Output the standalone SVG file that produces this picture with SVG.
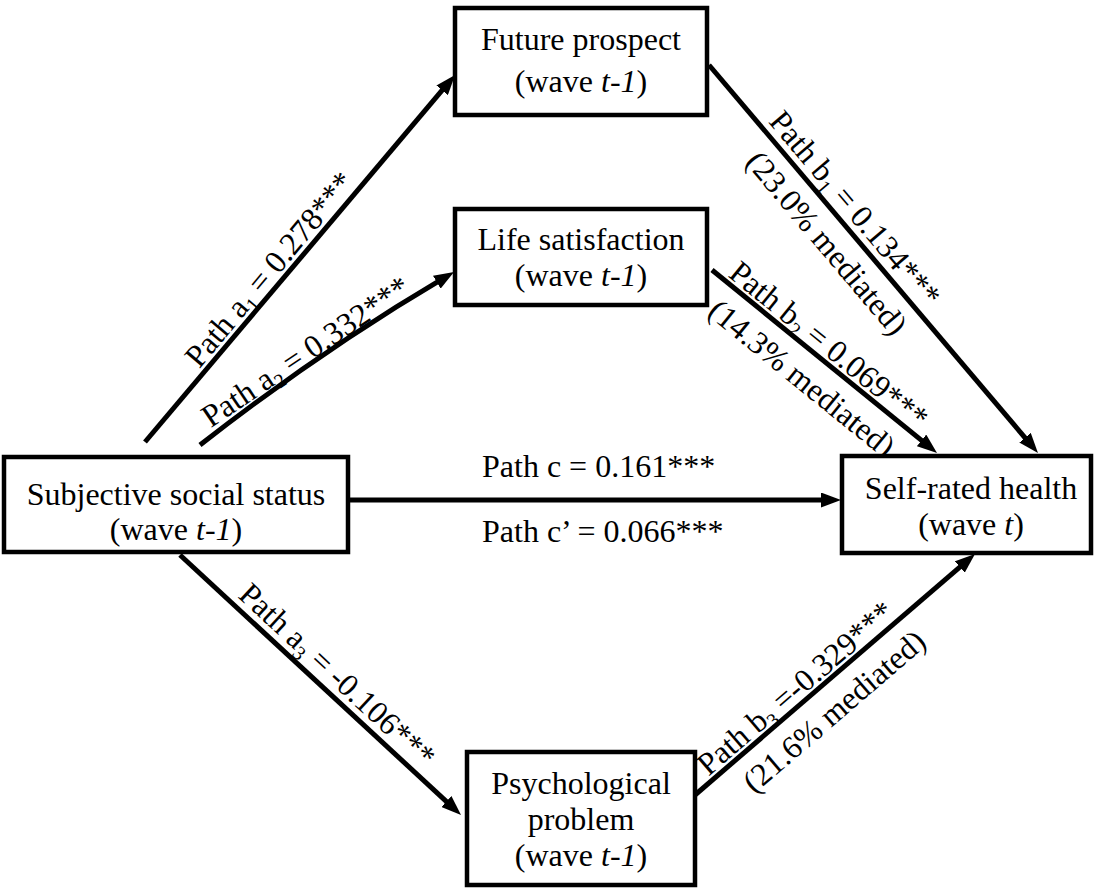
<svg xmlns="http://www.w3.org/2000/svg" width="1094" height="888" viewBox="0 0 1094 888">
<style>
text { font-family: "Liberation Serif", "Times New Roman", serif; font-size: 32px; fill: #000; }
.box { fill: #fff; stroke: #000; stroke-width: 4.5; }
.arr { fill: none; stroke: #000; stroke-width: 5; marker-end: url(#ah); }
.mid { text-anchor: middle; }
.sub { font-size: 20px; }
.it { font-style: italic; }
</style>
<defs>
<marker id="ah" markerUnits="userSpaceOnUse" markerWidth="20" markerHeight="15" refX="8" refY="7.5" orient="auto">
<path d="M0,0 L20,7.5 L0,15 z" fill="#000"/>
</marker>
</defs>
<rect width="1094" height="888" fill="#fff"/>

<g id="connectors">
<path class="arr" d="M145,442 L447.3,84.2"/>
<path class="arr" d="M200,445 Q321.4,350.2 443.7,278.1"/>
<path class="arr" d="M709,65 L1030.2,443.8"/>
<path class="arr" d="M712,270 L927.7,445.4"/>
<path class="arr" d="M350,500 L829,500"/>
<path class="arr" d="M180,555 L452.2,806.9"/>
<path class="arr" d="M695,795 L965.9,561.8"/>
</g>

<g id="edge-labels">
<text class="mid" transform="translate(282,280) rotate(-50)" y="-6">Path a<tspan class="sub" dy="6">1</tspan><tspan dy="-6"> = 0.278***</tspan></text>
<text class="mid" transform="translate(316,367) rotate(-34)" y="-8">Path a<tspan class="sub" dy="6">2</tspan><tspan dy="-6"> = 0.332***</tspan></text>
<text class="mid" transform="translate(846.1,226.7) rotate(49.7)" y="-8" x="-8">Path b<tspan class="sub" dy="6">1</tspan><tspan dy="-6"> = 0.134***</tspan></text>
<text class="mid" transform="translate(846.1,226.7) rotate(49.7)" y="36">(23.0% mediated)</text>
<text class="mid" transform="translate(819.1,357.1) rotate(39.1)" y="-5">Path b<tspan class="sub" dy="6">2</tspan><tspan dy="-6"> = 0.069***</tspan></text>
<text class="mid" transform="translate(819.1,357.1) rotate(39.1)" y="38">(14.3% mediated)</text>
<text x="482" y="477">Path c = 0.161***</text>
<text x="482" y="542">Path c’ = 0.066***</text>
<text class="mid" transform="translate(324.6,688.8) rotate(42.8)" y="-8">Path a<tspan class="sub" dy="6">3</tspan><tspan dy="-6"> = -0.106***</tspan></text>
<text class="mid" transform="translate(810.2,695.8) rotate(-40.7)" y="-5" x="-6">Path b<tspan class="sub" dy="6">3</tspan><tspan dy="-6"> =-0.329***</tspan></text>
<text class="mid" transform="translate(810.2,695.8) rotate(-40.7)" y="38" x="8">(21.6% mediated)</text>
</g>

<g id="node-sss">
<rect class="box" x="4" y="457" width="344" height="95"/>
<text class="mid" x="176" y="505">Subjective social status</text>
<text class="mid" x="176" y="540">(wave <tspan class="it">t-1</tspan>)</text>
</g>

<g id="node-future">
<rect class="box" x="455" y="8" width="252" height="107"/>
<text class="mid" x="581" y="50">Future prospect</text>
<text class="mid" x="581" y="92">(wave <tspan class="it">t-1</tspan>)</text>
</g>

<g id="node-life">
<rect class="box" x="455" y="209" width="252" height="96"/>
<text class="mid" x="581" y="250">Life satisfaction</text>
<text class="mid" x="581" y="286">(wave <tspan class="it">t-1</tspan>)</text>
</g>

<g id="node-psych">
<rect class="box" x="467" y="752" width="228" height="133"/>
<text class="mid" x="581" y="794">Psychological</text>
<text class="mid" x="581" y="830">problem</text>
<text class="mid" x="581" y="866">(wave <tspan class="it">t-1</tspan>)</text>
</g>

<g id="node-health">
<rect class="box" x="842" y="456" width="249" height="97"/>
<text class="mid" x="971" y="499">Self-rated health</text>
<text class="mid" x="971" y="535">(wave <tspan class="it">t</tspan>)</text>
</g>
</svg>
